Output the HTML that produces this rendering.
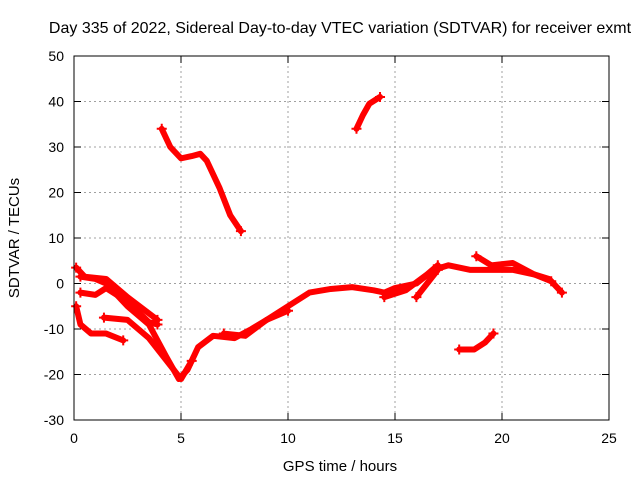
<!DOCTYPE html>
<html><head><meta charset="utf-8"><style>
body{margin:0;background:#fff}
svg{display:block;font-family:"Liberation Sans",sans-serif}
</style></head><body>
<svg id="chart" width="640" height="480" viewBox="0 0 640 480">
<text x="340" y="33" font-size="16" text-anchor="middle">Day 335 of 2022, Sidereal Day-to-day VTEC variation (SDTVAR) for receiver exmt</text>
<g id="grid"></g>
<g id="series"></g>
<rect x="74" y="56" width="535" height="364" fill="none" stroke="#000" stroke-width="1"/>
<g id="ticks"></g>
<text x="340" y="471" font-size="15" text-anchor="middle">GPS time / hours</text>
<text transform="translate(19,238) rotate(-90)" font-size="15" text-anchor="middle">SDTVAR / TECUs</text>
</svg>
<script>
const xTicks=[0,5,10,15,20,25];
const yTicks=[-30,-20,-10,0,10,20,30,40,50];
const track1=[[4.1,34],[4.5,30],[5,27.5],[5.5,28],[5.9,28.5],[6.2,27],[6.8,21],[7.3,15],[7.8,11.5]];
const track2=[[13.2,34],[13.5,37],[13.8,39.5],[14.3,41]];
const track3=[[0.3,1.5],[1,1],[1.5,0],[2.5,-5],[3.5,-9],[4.3,-16],[4.9,-21],[5.3,-19],[5.8,-14],[6.5,-11.5],[7.5,-12],[8.3,-10],[9,-8],[10,-5],[11,-2],[12,-1.2],[13,-0.8],[14,-1.5],[14.5,-2],[15,-1],[16,0],[16.8,3],[17.5,4],[18.5,3],[19.5,3],[20.5,3],[21.5,2],[22.2,1],[22.8,-2]];
const track4=[[0.1,-5],[0.3,-9],[0.8,-11],[1.5,-11],[2.3,-12.5]];
const track5=[[0.3,-2],[1,-2.5],[1.5,-1],[2.5,-4],[3.5,-8.5],[3.9,-9]];
const track6=[[1.4,-7.5],[2.5,-8],[3.5,-12],[4.5,-18],[5,-21],[5.5,-17]];
const track7=[[7,-11],[8,-11.5],[9,-8],[10,-6]];
const track8=[[18,-14.5],[18.7,-14.5],[19.2,-13],[19.6,-11]];
const track9=[[14.5,-3],[15.5,-1.5],[16.5,2],[17,4]];
const track10=[[16,-3],[16.5,0],[17,3]];
const track11=[[18.8,6],[19.5,4],[20.5,4.5],[21.5,2],[22.3,0.5]];
const track12=[[0.1,3.5],[0.5,1.5],[1.5,1],[2.5,-3],[3.9,-8]];
const tracks=[track1,track2,track3,track4,track5,track6,track7,track8,track9,track10,track11,track12];
const X=v=>74+v*535/25, Y=v=>420-(v+30)*364/80;
const NS="http://www.w3.org/2000/svg";
const mk=(t,a,p)=>{const e=document.createElementNS(NS,t);for(const k in a)e.setAttribute(k,a[k]);p.appendChild(e);return e;};
const grid=document.getElementById('grid'),ticks=document.getElementById('ticks'),ser=document.getElementById('series');
xTicks.forEach(t=>{
 if(t>0&&t<25){const l=mk('line',{x1:X(t),x2:X(t),y1:56,y2:420,stroke:'#a0a0a0','stroke-dasharray':'2,3'},grid);
 }
 const tk=mk('line',{x1:X(t),x2:X(t),y1:420,y2:413,stroke:'#000'},ticks);
 
 const tk2=mk('line',{x1:X(t),x2:X(t),y1:56,y2:63,stroke:'#000'},ticks);
 
 const tx=mk('text',{x:X(t),y:443,'font-size':14,'text-anchor':'middle'},ticks);tx.textContent=t;
 
});
yTicks.forEach(t=>{
 if(t>-30&&t<50){const l=mk('line',{x1:74,x2:609,y1:Y(t),y2:Y(t),stroke:'#a0a0a0','stroke-dasharray':'2,3'},grid);
 }
 const tk=mk('line',{x1:74,x2:81,y1:Y(t),y2:Y(t),stroke:'#000'},ticks);
 
 const tk2=mk('line',{x1:602,x2:609,y1:Y(t),y2:Y(t),stroke:'#000'},ticks);
 
 const tx=mk('text',{x:64,y:Y(t)+5,'font-size':14,'text-anchor':'end'},ticks);tx.textContent=t;
 
});
tracks.forEach(tr=>{
 const p=mk('polyline',{points:tr.map(d=>X(d[0])+','+Y(d[1])).join(' '),fill:'none',stroke:'#f00','stroke-width':6,'stroke-linejoin':'round','stroke-linecap':'round'},ser);
 
 [tr[0],tr[tr.length-1]].forEach(d=>{
  const m=mk('path',{d:`M${X(d[0])-5},${Y(d[1])}h10M${X(d[0])},${Y(d[1])-5}v10`,stroke:'#f00','stroke-width':2},ser);
  
 });
});
</script>
</body></html>
